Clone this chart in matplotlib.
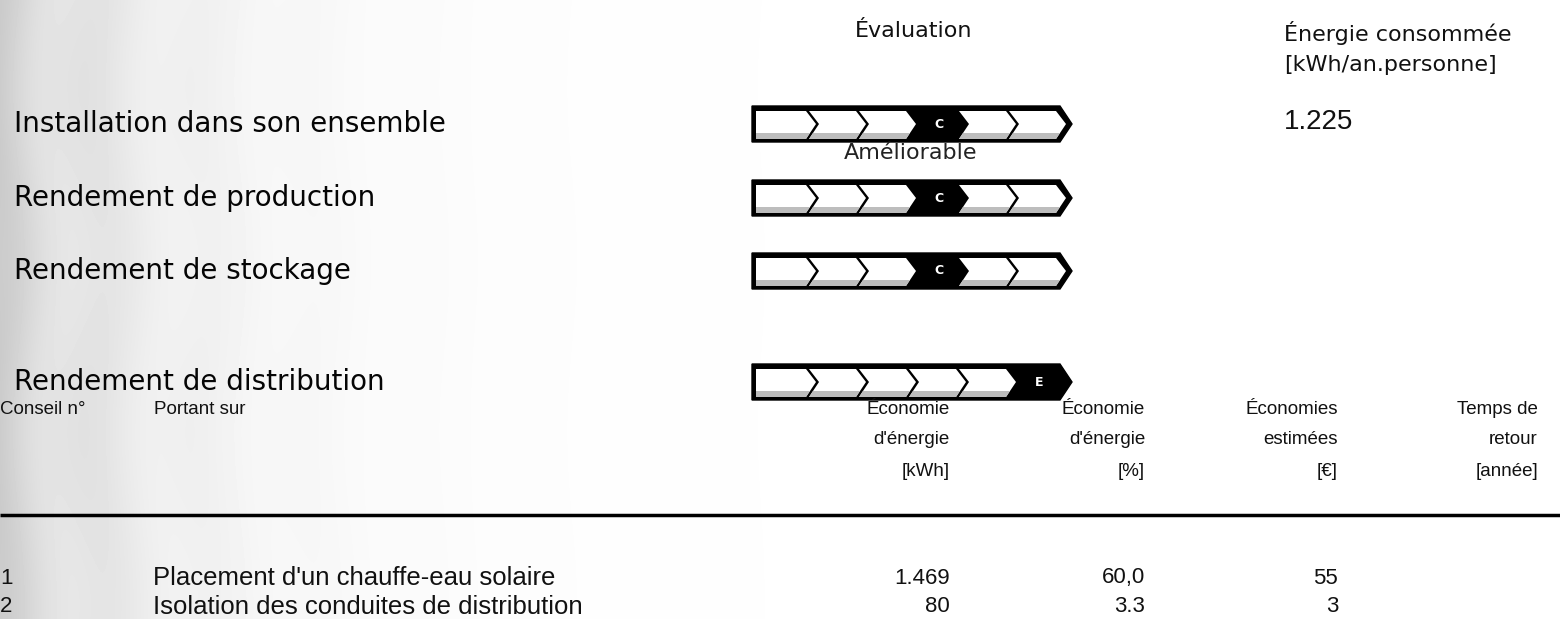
import numpy as np
import matplotlib
matplotlib.use("Agg")
from matplotlib import pyplot as plt
from matplotlib.patches import Polygon, Rectangle

# rating scale and the rows of the evaluation block
scale = ['A+', 'A', 'B', 'C', 'D', 'E']
row_labels = ['Installation dans son ensemble', 'Rendement de production',
              'Rendement de stockage', 'Rendement de distribution']
row_ratings = ['C', 'C', 'C', 'E']
row_y = [124, 198, 271, 382]
overall_text = 'Améliorable'
energy_value = '1.225'

# advice table
col_headers = [['Économie', "d'énergie", '[kWh]'],
               ['Économie', "d'énergie", '[%]'],
               ['Économies', 'estimées', '[€]'],
               ['Temps de', 'retour', '[année]']]
advice_nr = ['1', '2']
advice_txt = ["Placement d'un chauffe-eau solaire",
              'Isolation des conduites de distribution']
saving_kwh = ['1.469', '80']
saving_pct = ['60,0', '3.3']
saving_eur = ['55', '3']
payback = ['', '']

W, H = 1560, 619
fig = plt.figure(figsize=(W / 100, H / 100), dpi=100)
ax = fig.add_axes([0, 0, 1, 1])
ax.set_xlim(0, W)
ax.set_ylim(H, 0)
ax.axis('off')

# faded grey streaks on the left side (scanned page background)
xx = np.arange(W)[None, :]
yy = np.arange(H)[:, None]
fade = np.exp(-xx / 150.0)
streak = 0.5 + 0.5 * np.cos(xx / 17.0 + 0.6 * np.sin(yy / 55.0))
bg = 1 - fade * (0.12 + 0.06 * streak) - 0.025 * np.exp(-xx / 350.0)
ax.imshow(np.clip(bg, 0, 1), cmap='gray', vmin=0, vmax=1,
          extent=(0, W, H, 0), aspect='auto', zorder=0)

bounds = [752, 810, 860, 910, 960, 1010, 1060]
tip = 1072


def rating_bar(yc, rating):
    top, bot = yc - 18, yc + 18
    it, ib = top + 5, bot - 3
    outer = [(bounds[0], top), (bounds[-1], top), (tip, yc),
             (bounds[-1], bot), (bounds[0], bot)]
    ax.add_patch(Polygon(outer, closed=True, fc='black', ec='black', lw=1, zorder=2))
    for i, lab in enumerate(scale):
        xl, xr = bounds[i], bounds[i + 1]
        if lab == rating:
            ax.text((xl + xr) / 2 + 4, yc, lab, color='white', fontsize=9,
                    fontweight='bold', ha='center', va='center', zorder=4)
            continue
        if i == 0:
            left = [(xl + 4, ib), (xl + 4, it)]
        else:
            left = [(xl - 1, ib), (xl + 9, yc), (xl - 1, it)]
        right = [(xr - 4, it), (xr + 6, yc), (xr - 4, ib)]
        poly = Polygon(left + right, closed=True, fc='white', ec='none', zorder=3)
        ax.add_patch(poly)
        shade = Rectangle((xl - 5, ib - 6), xr - xl + 15, 6, fc='#bdbdbd',
                          ec='none', zorder=3)
        ax.add_patch(shade)
        shade.set_clip_path(poly)


label_font = ['DejaVu Sans']
wide_font = ['DejaVu Sans']
doc_font = ['Liberation Sans', 'DejaVu Sans']
ink = '#111111'

for lab, rat, yc in zip(row_labels, row_ratings, row_y):
    ax.text(14, yc, lab, fontsize=20, family=label_font, color='#050505',
            ha='left', va='center', zorder=5)
    rating_bar(yc, rat)

ax.text(911, 153, overall_text, fontsize=16, family=wide_font, color='#222222',
        ha='center', va='center', zorder=5)
ax.text(914, 31, 'Évaluation', fontsize=16, family=wide_font, color=ink,
        ha='center', va='center')
ax.text(1284, 33, 'Énergie consommée', fontsize=16, family=wide_font,
        color=ink, ha='left', va='center')
ax.text(1284, 65, '[kWh/an.personne]', fontsize=16, family=wide_font,
        color=ink, ha='left', va='center')
ax.text(1284, 122, energy_value, fontsize=20, family=doc_font, color=ink,
        ha='left', va='center')

# table header
head_y = [410, 440, 471]
ax.text(0, head_y[0], 'Conseil n°', fontsize=13.5, family=doc_font, color=ink,
        ha='left', va='center')
ax.text(154, head_y[0], 'Portant sur', fontsize=13.5, family=doc_font,
        color=ink, ha='left', va='center')
col_right = [950, 1145, 1338, 1538]
for xr, lines in zip(col_right, col_headers):
    for yh, line in zip(head_y, lines):
        ax.text(xr, yh, line, fontsize=13.5, family=doc_font, color=ink,
                ha='right', va='center')

ax.plot([0, W], [515, 515], color='black', lw=2.5, solid_capstyle='butt')

row_ty = [578, 607]
for i, yr in enumerate(row_ty):
    ax.text(0, yr, advice_nr[i], fontsize=16, family=doc_font, color=ink,
            ha='left', va='center')
    ax.text(153, yr, advice_txt[i], fontsize=18.5, family=doc_font, color=ink,
            ha='left', va='center')
    for xr, vals in zip(col_right, [saving_kwh, saving_pct, saving_eur, payback]):
        ax.text(xr, yr, vals[i], fontsize=16, family=doc_font, color=ink,
                ha='right', va='center')

fig.savefig('out.png', dpi=100, facecolor='white')
